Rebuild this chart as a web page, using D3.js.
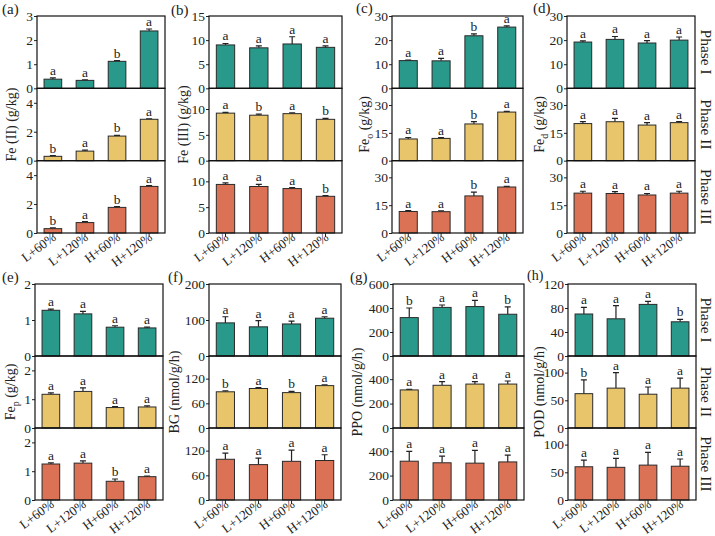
<!DOCTYPE html>
<html>
<head>
<meta charset="utf-8">
<script src="https://cdn.jsdelivr.net/npm/d3@7"></script>
<style>
  body { margin: 0; background: #fff; }
  svg text { font-family: "Liberation Serif", "Times New Roman", Tinos, "DejaVu Serif", serif !important; fill: #222; }
</style>
</head>
<body>
<script>
// ---- data ----
const groups = ["L+60%", "L+120%", "H+60%", "H+120%"];
const phases = ["Phase I", "Phase II", "Phase III"];

// (a) Fe(II)
const feIIMean = [[0.38, 0.33, 1.12, 2.38], [0.30, 0.66, 1.70, 2.86], [0.30, 0.72, 1.77, 3.22]];
const feIIErr = [[0.05, 0.02, 0.03, 0.08], [0.05, 0.07, 0.05, 0.03], [0.05, 0.06, 0.05, 0.06]];
const feIILetters = [["a", "a", "b", "a"], ["b", "a", "b", "a"], ["b", "a", "b", "a"]];
const feIIMax = [3, 5, 5];
const feIITicks = [[0, 1, 2, 3], [0, 2, 4], [0, 2, 4]];

// (b) Fe(III)
const feIIIMean = [[9.0, 8.4, 9.2, 8.5], [9.2, 8.8, 9.1, 8.0], [9.4, 9.0, 8.6, 7.1]];
const feIIIErr = [[0.3, 0.4, 1.5, 0.3], [0.15, 0.2, 0.15, 0.2], [0.3, 0.4, 0.2, 0.15]];
const feIIILetters = [["a", "a", "a", "a"], ["a", "b", "a", "b"], ["a", "a", "a", "b"]];
const feIIIMax = [15, 14, 14];
const feIIITicks = [[0, 5, 10, 15], [0, 5, 10], [0, 5, 10]];

// (c) Fe_o
const feoMean = [[11.5, 11.4, 21.8, 25.4], [11.7, 12.0, 19.8, 26.2], [11.6, 11.5, 20.0, 24.8]];
const feoErr = [[0.2, 1.0, 0.8, 0.5], [0.8, 0.4, 1.2, 0.4], [0.5, 0.4, 2.0, 0.3]];
const feoLetters = [["a", "a", "b", "a"], ["a", "a", "b", "a"], ["a", "a", "b", "a"]];
const feoMax = [30, 39, 39];
const feoTicks = [[0, 10, 20, 30], [0, 15, 30], [0, 15, 30]];

// (d) Fe_d
const fedMean = [[19.2, 20.3, 18.8, 20.0], [20.0, 21.0, 19.2, 20.5], [21.5, 21.3, 20.5, 21.5]];
const fedErr = [[0.5, 1.2, 1.0, 1.3], [1.0, 1.8, 1.3, 0.5], [1.0, 1.0, 0.8, 1.0]];
const fedLetters = [["a", "a", "a", "a"], ["a", "a", "a", "a"], ["a", "a", "a", "a"]];
const fedMax = [30, 39, 39];
const fedTicks = [[0, 10, 20, 30], [0, 15, 30], [0, 15, 30]];

// (e) Fe_p
const fepMean = [[1.27, 1.17, 0.80, 0.78], [1.17, 1.27, 0.71, 0.73], [1.25, 1.28, 0.65, 0.81]];
const fepErr = [[0.03, 0.07, 0.04, 0.02], [0.05, 0.12, 0.03, 0.04], [0.04, 0.08, 0.08, 0.02]];
const fepLetters = [["a", "a", "a", "a"], ["a", "a", "a", "a"], ["a", "a", "b", "a"]];
const fepMax = [2, 2.5, 2.5];
const fepTicks = [[0, 1, 2], [0, 1, 2], [0, 1, 2]];

// (f) BG
const bgMean = [[92, 81, 89, 105], [88, 96, 86, 103], [99, 86, 94, 96]];
const bgErr = [[17, 17, 8, 4], [2, 2, 3, 2], [15, 16, 27, 14]];
const bgLetters = [["a", "a", "a", "a"], ["b", "a", "b", "a"], ["a", "a", "a", "a"]];
const bgMax = [200, 175, 175];
const bgTicks = [[0, 100, 200], [0, 60, 120], [0, 60, 120]];

// (g) PPO
const ppoMean = [[320, 405, 412, 348], [312, 350, 360, 360], [318, 305, 302, 312]];
const ppoErr = [[80, 20, 52, 62], [5, 30, 20, 25], [80, 55, 105, 55]];
const ppoLetters = [["b", "a", "a", "b"], ["a", "a", "a", "a"], ["a", "a", "a", "a"]];
const ppoMax = [600, 590, 590];
const ppoTicks = [[0, 200, 400, 600], [0, 200, 400], [0, 200, 400]];

// (h) POD
const podMean = [[70, 62, 86, 57], [62, 72, 61, 72], [60, 59, 63, 61]];
const podErr = [[11, 22, 5, 4], [25, 28, 13, 18], [12, 16, 23, 13]];
const podLetters = [["a", "a", "a", "b"], ["b", "a", "a", "a"], ["a", "a", "a", "a"]];
const podMax = [120, 130, 130];
const podTicks = [[0, 40, 80, 120], [0, 50, 100], [0, 50, 100]];

const phaseColors = ["#28998a", "#e8c46b", "#dc7255"];

// ---- layout ----
const W = 715, H = 536;
const panels = [
  { tag: "(a)", title: ["Fe (II) (g/kg)"], mean: feIIMean, err: feIIErr, let: feIILetters, max: feIIMax, ticks: feIITicks,
    x0: 37, x1: 165, y0: 16, y1: 233, tx: 11, lx: 2, ly: 14 },
  { tag: "(b)", title: ["Fe (III) (g/kg)"], mean: feIIIMean, err: feIIIErr, let: feIIILetters, max: feIIIMax, ticks: feIIITicks,
    x0: 209, x1: 342, y0: 16, y1: 233, tx: 183, lx: 171, ly: 15 },
  { tag: "(c)", title: ["Fe", "o", " (g/kg)"], mean: feoMean, err: feoErr, let: feoLetters, max: feoMax, ticks: feoTicks,
    x0: 392, x1: 523, y0: 16, y1: 233, tx: 364, lx: 356, ly: 13 },
  { tag: "(d)", title: ["Fe", "d", " (g/kg)"], mean: fedMean, err: fedErr, let: fedLetters, max: fedMax, ticks: fedTicks,
    x0: 567, x1: 695, y0: 16, y1: 233, tx: 539, lx: 533, ly: 13 },
  { tag: "(e)", title: ["Fe", "p", " (g/kg)"], mean: fepMean, err: fepErr, let: fepLetters, max: fepMax, ticks: fepTicks,
    x0: 35, x1: 163, y0: 284, y1: 500, tx: 10, lx: 2, ly: 282 },
  { tag: "(f)", title: ["BG (nmol/g/h)"], mean: bgMean, err: bgErr, let: bgLetters, max: bgMax, ticks: bgTicks,
    x0: 209, x1: 341, y0: 284, y1: 500, tx: 174, lx: 168, ly: 282 },
  { tag: "(g)", title: ["PPO (nmol/g/h)"], mean: ppoMean, err: ppoErr, let: ppoLetters, max: ppoMax, ticks: ppoTicks,
    x0: 393, x1: 524, y0: 284, y1: 500, tx: 357, lx: 350, ly: 282 },
  { tag: "(h)", title: ["POD (nmol/g/h)"], mean: podMean, err: podErr, let: podLetters, max: podMax, ticks: podTicks,
    x0: 568, x1: 696, y0: 284, y1: 500, tx: 539, lx: 527, ly: 280 }
];

const svg = d3.select("body").append("svg")
  .attr("width", W)
  .attr("height", H);

panels.forEach(p => {
  const g = svg.append("g");
  const subH = (p.y1 - p.y0) / 3;

  const x = d3.scaleBand()
    .domain(groups)
    .range([p.x0, p.x1])
    .paddingInner(0.45)
    .paddingOuter(0.22);

  phases.forEach((ph, i) => {
    const top = p.y0 + i * subH, bot = top + subH;
    const y = d3.scaleLinear().domain([0, p.max[i]]).range([bot, top]);

    const rows = groups.map((k, j) => ({ k, v: p.mean[i][j], e: p.err[i][j], l: p.let[i][j] }));

    // error bars (upper only)
    g.append("g").selectAll("path")
      .data(rows)
      .join("path")
      .attr("d", d => {
        const cx = x(d.k) + x.bandwidth() / 2;
        const yt = y(d.v + d.e);
        return `M${cx},${y(d.v)}V${yt}M${cx - 3},${yt}H${cx + 3}`;
      })
      .attr("stroke", "#222")
      .attr("stroke-width", 1.2)
      .attr("fill", "none");

    g.append("g").selectAll("rect")
      .data(rows)
      .join("rect")
      .attr("x", d => x(d.k))
      .attr("width", x.bandwidth())
      .attr("y", d => y(d.v))
      .attr("height", d => y(0) - y(d.v))
      .attr("fill", phaseColors[i])
      .attr("stroke", "#2a2a2a")
      .attr("stroke-width", 1);

    g.append("g").selectAll("text")
      .data(rows)
      .join("text")
      .attr("x", d => x(d.k) + x.bandwidth() / 2)
      .attr("y", d => y(d.v + d.e) - 3)
      .attr("text-anchor", "middle")
      .attr("font-size", 13.5)
      .text(d => d.l);

    // y axis
    const ax = g.append("g")
      .attr("transform", `translate(${p.x0},0)`)
      .call(d3.axisLeft(y).tickValues(p.ticks[i]).tickSize(3).tickPadding(1).tickFormat(d3.format("~g")));
    ax.select(".domain").remove();
    ax.selectAll("line").attr("stroke", "#222");
    ax.selectAll("text").attr("font-size", 13.5).attr("fill", "#222");

    // box of the sub panel
    g.append("rect")
      .attr("x", p.x0).attr("y", top)
      .attr("width", p.x1 - p.x0).attr("height", subH)
      .attr("fill", "none")
      .attr("stroke", "#111")
      .attr("stroke-width", 1.2);

    // phase label on the right side
    if (p.tag === "(d)" || p.tag === "(h)") {
      svg.append("text")
        .attr("transform", `translate(${701},${(top + bot) / 2}) rotate(90)`)
        .attr("text-anchor", "middle")
        .attr("font-size", 15.5)
        .text(ph);
    }
  });

  // x axis
  const xa = g.append("g")
    .attr("transform", `translate(0,${p.y1})`)
    .call(d3.axisBottom(x).tickSize(4).tickSizeOuter(0));
  xa.select(".domain").remove();
  xa.selectAll("line").attr("stroke", "#222");
  xa.selectAll("text")
    .attr("font-size", 13)
    .attr("fill", "#222")
    .attr("text-anchor", "end")
    .attr("x", 0).attr("y", 0).attr("dy", 0)
    .attr("transform", "translate(4,6) rotate(-37)");

  // y title
  const t = svg.append("text")
    .attr("transform", `translate(${p.tx},${p.y0 + subH * 1.5}) rotate(-90)`)
    .attr("text-anchor", "middle")
    .attr("dy", "0.35em")
    .attr("font-size", 14);
  if (p.title.length === 1) {
    t.text(p.title[0]);
  } else {
    t.append("tspan").text(p.title[0]);
    t.append("tspan").attr("font-size", 10).attr("dy", 4).text(p.title[1]);
    t.append("tspan").attr("dy", -4).text(p.title[2]);
  }

  svg.append("text")
    .attr("x", p.lx).attr("y", p.ly)
    .attr("font-size", p.tag === "(h)" ? 14 : 15)
    .text(p.tag);
});
</script>
</body>
</html>
